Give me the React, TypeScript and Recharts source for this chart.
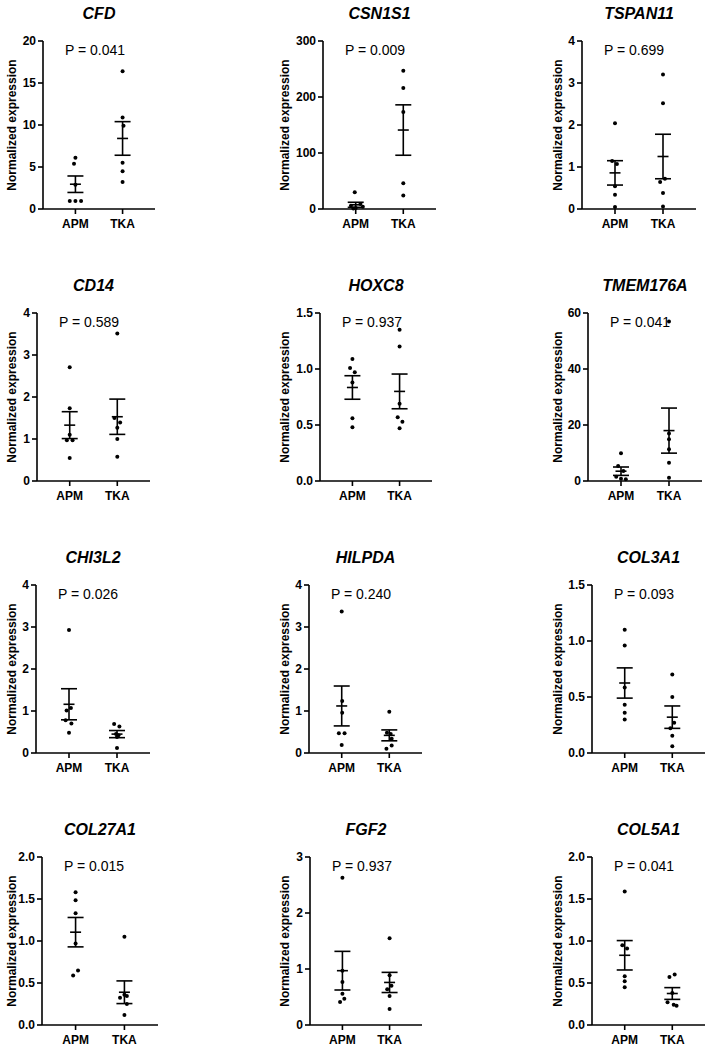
import React from 'react';
import { ScatterChart, Scatter, XAxis, YAxis, ErrorBar } from 'recharts';

// ---------- data ----------
const genes = ['CFD', 'CSN1S1', 'TSPAN11', 'CD14', 'HOXC8', 'TMEM176A', 'CHI3L2', 'HILPDA', 'COL3A1', 'COL27A1', 'FGF2', 'COL5A1'];
const pValues = ['0.041', '0.009', '0.699', '0.589', '0.937', '0.041', '0.026', '0.240', '0.093', '0.015', '0.937', '0.041'];
const groupLabels = ['APM', 'TKA'];
const yAxisTitle = 'Normalized expression';

const yTicks = [
  [0, 5, 10, 15, 20],
  [0, 100, 200, 300],
  [0, 1, 2, 3, 4],
  [0, 1, 2, 3, 4],
  [0, 0.5, 1, 1.5],
  [0, 20, 40, 60],
  [0, 1, 2, 3, 4],
  [0, 1, 2, 3, 4],
  [0, 0.5, 1, 1.5],
  [0, 0.5, 1, 1.5, 2],
  [0, 1, 2, 3],
  [0, 0.5, 1, 1.5, 2],
];

const apmValues = [
  [6.1, 5.4, 2.9, 0.96, 0.96, 0.96],
  [30, 9, 6, 4, 2, 1],
  [2.04, 1.14, 1.07, 0.54, 0.34, 0.05],
  [2.71, 1.73, 1.1, 0.97, 0.97, 0.55],
  [1.09, 1.01, 0.97, 0.88, 0.56, 0.48],
  [9.9, 5.4, 3.6, 1.5, 0.8, 0.6],
  [2.93, 1.07, 1.01, 0.78, 0.7, 0.48],
  [3.37, 1.24, 0.96, 0.47, 0.47, 0.19],
  [1.1, 0.96, 0.585, 0.43, 0.36, 0.3],
  [1.58, 1.485, 1.33, 0.97, 0.65, 0.59],
  [2.63, 0.97, 0.77, 0.56, 0.47, 0.41],
  [1.59, 0.95, 0.91, 0.58, 0.52, 0.45],
];
const apmJitter = [
  [0, -0.03, 0, -0.12, 0, 0.12],
  [-0.02, 0.1, -0.1, 0.15, 0, -0.05],
  [0, -0.06, 0.04, 0, 0, 0],
  [0, 0, 0, -0.06, 0.06, 0],
  [0, -0.05, 0.05, 0, 0, 0],
  [0, -0.06, 0.05, -0.1, 0, 0.1],
  [0, 0.04, -0.05, -0.07, 0.05, 0],
  [0, 0.01, 0.01, -0.06, 0.06, 0],
  [0, 0, 0, 0, 0, 0],
  [0, 0, 0, 0, 0.05, -0.05],
  [0, 0, 0, 0, 0.04, -0.05],
  [0, -0.05, 0.05, 0, 0, 0],
];
const tkaValues = [
  [16.4, 10.9, 9.9, 5.5, 4.5, 3.2],
  [247, 216, 173, 46, 24],
  [3.2, 2.52, 0.72, 0.64, 0.38, 0.06],
  [3.51, 1.5, 1.39, 1.27, 1.0, 0.58],
  [1.35, 1.2, 0.69, 0.57, 0.53, 0.47],
  [57, 17, 14.9, 11.3, 6.5, 1.2],
  [0.69, 0.63, 0.45, 0.42, 0.38, 0.12],
  [0.98, 0.48, 0.45, 0.34, 0.18, 0.1],
  [0.7, 0.5, 0.27, 0.22, 0.155, 0.06],
  [1.05, 0.36, 0.345, 0.325, 0.25, 0.12],
  [1.55, 0.89, 0.7, 0.64, 0.52, 0.285],
  [0.6, 0.57, 0.38, 0.27, 0.24, 0.23],
];
const tkaJitter = [
  [0, 0, 0.02, 0, 0, 0],
  [0, 0, 0, 0, 0],
  [0, 0, 0.04, -0.06, 0, 0],
  [0, -0.06, 0.06, 0, 0, 0],
  [0, 0, 0, -0.04, 0.06, 0],
  [0, 0, 0, 0, 0, 0],
  [-0.06, 0.05, -0.02, 0.03, 0, 0],
  [0, -0.05, 0.03, 0.05, 0.05, -0.06],
  [0, 0, 0.04, -0.04, 0, 0],
  [0, 0, 0.05, -0.09, 0.05, 0],
  [0, 0, 0.04, -0.05, 0, 0],
  [0.05, -0.06, 0, -0.1, 0.03, 0.09],
];
const apmMean = [2.95, 7.5, 0.86, 1.33, 0.835, 3.5, 1.16, 1.12, 0.625, 1.105, 0.97, 0.83];
const apmSem = [0.98, 4.5, 0.29, 0.32, 0.105, 1.5, 0.37, 0.475, 0.135, 0.175, 0.345, 0.175];
const tkaMean = [8.4, 141, 1.25, 1.53, 0.8, 18, 0.45, 0.42, 0.32, 0.39, 0.76, 0.375];
const tkaSem = [2.0, 45, 0.53, 0.42, 0.155, 8.05, 0.085, 0.13, 0.1, 0.135, 0.18, 0.07];

// ---------- layout ----------
const axisLeft = [43, 323, 582, 37, 320, 588, 36, 309, 592, 42, 310, 592];
const plotWidth = [112, 113, 114, 113, 112, 114, 114, 113, 113, 116, 112, 113];
const rowTop = [41, 313, 585, 857];
const labelCenterX = [12, 285, 558];
const PLOT_H = 168;
const YW = 45;
const MT = 10;
const MR = 8;
const XH = 30;
const FONT = '"Liberation Sans", Arial, Helvetica, sans-serif';

const dotShape = (p: any) => <circle cx={p.cx} cy={p.cy} r={2} fill="#000" />;
const meanShape = (p: any) => (
  <line x1={p.cx - 5.5} x2={p.cx + 5.5} y1={p.cy} y2={p.cy} stroke="#000" strokeWidth={1.6} />
);

function Panel({ i }: { i: number }) {
  const row = Math.floor(i / 3);
  const col = i % 3;
  const plotTop = rowTop[row];
  const ax = axisLeft[i];
  const pw = plotWidth[i];
  const ticks = yTicks[i];
  const dec = ticks.some((t) => !Number.isInteger(t)) ? 1 : 0;
  const dots = [
    ...apmValues[i].map((v, k) => ({ x: 1 + apmJitter[i][k], y: v })),
    ...tkaValues[i].map((v, k) => ({ x: 2 + tkaJitter[i][k], y: v })),
  ];
  const means = [
    { x: 1, y: apmMean[i], sem: apmSem[i] },
    { x: 2, y: tkaMean[i], sem: tkaSem[i] },
  ];
  const tickStyle = { fill: '#000', fontSize: 12, fontWeight: 'bold', fontFamily: FONT };
  return (
    <>
      <div
        style={{
          position: 'absolute',
          left: ax + pw / 2 - 100,
          width: 200,
          top: plotTop - 37.5,
          lineHeight: '20px',
          textAlign: 'center',
          fontSize: 16,
          fontWeight: 'bold',
          fontStyle: 'italic',
          fontFamily: FONT,
          color: '#000',
        }}
      >
        {genes[i]}
      </div>
      <div
        style={{
          position: 'absolute',
          left: ax + 22,
          top: plotTop + 1,
          lineHeight: '16px',
          fontSize: 14,
          fontFamily: FONT,
          color: '#000',
          whiteSpace: 'nowrap',
        }}
      >
        {'P = ' + pValues[i]}
      </div>
      <div
        style={{
          position: 'absolute',
          left: labelCenterX[col] - 100,
          top: plotTop + PLOT_H / 2 - 8,
          width: 200,
          lineHeight: '16px',
          textAlign: 'center',
          fontSize: 12,
          fontWeight: 'bold',
          fontFamily: FONT,
          color: '#000',
          whiteSpace: 'nowrap',
          transform: 'rotate(-90deg)',
        }}
      >
        {yAxisTitle}
      </div>
      <div style={{ position: 'absolute', left: ax - YW, top: plotTop - MT }}>
        <ScatterChart
          width={YW + pw + MR}
          height={MT + PLOT_H + XH}
          margin={{ top: MT, right: MR, bottom: 0, left: 0 }}
        >
          <XAxis
            type="number"
            dataKey="x"
            domain={[0.3125, 2.6875]}
            ticks={[1, 2]}
            allowDataOverflow
            height={XH}
            tickFormatter={(v: number) => groupLabels[Math.round(v) - 1]}
            tick={tickStyle}
            tickSize={5}
            tickMargin={5}
            axisLine={{ stroke: '#000', strokeWidth: 1.6 }}
            tickLine={{ stroke: '#000', strokeWidth: 1.6 }}
          />
          <YAxis
            type="number"
            dataKey="y"
            domain={[0, ticks[ticks.length - 1]]}
            ticks={ticks}
            interval={0}
            width={YW}
            tickFormatter={(v: number) => v.toFixed(dec)}
            tick={tickStyle}
            tickSize={5}
            tickMargin={2}
            axisLine={{ stroke: '#000', strokeWidth: 1.6 }}
            tickLine={{ stroke: '#000', strokeWidth: 1.6 }}
          />
          <Scatter data={means} shape={meanShape} isAnimationActive={false}>
            <ErrorBar dataKey="sem" direction="y" width={8} stroke="#000" strokeWidth={1.6} isAnimationActive={false} />
          </Scatter>
          <Scatter data={dots} shape={dotShape} isAnimationActive={false} />
        </ScatterChart>
      </div>
    </>
  );
}

export default function App() {
  return (
    <div
      style={{
        position: 'absolute',
        left: 0,
        top: 0,
        width: 713,
        height: 1050,
        background: '#fff',
        overflow: 'hidden',
      }}
    >
      {genes.map((g, i) => (
        <Panel key={g} i={i} />
      ))}
    </div>
  );
}
